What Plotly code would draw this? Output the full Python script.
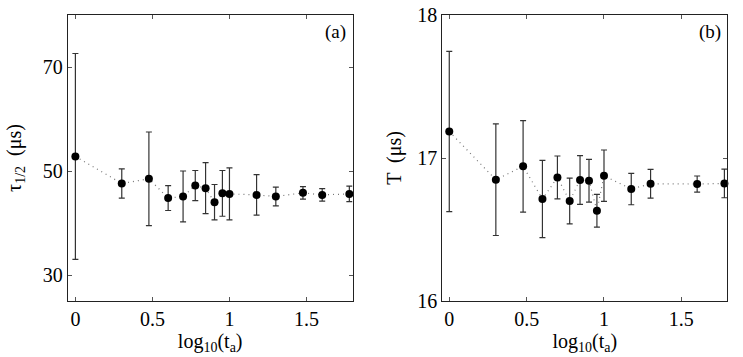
import numpy as np
import plotly.graph_objects as go

# data
ta_a = [1, 2, 3, 4, 5, 6, 7, 8, 9, 10, 15, 20, 30, 40, 60]
tau = [52.8, 47.6, 48.5, 44.8, 45.1, 47.2, 46.7, 44.0, 45.7, 45.6, 45.4, 45.1, 45.8, 45.4, 45.6]
tau_err = [19.8, 2.8, 9.0, 2.4, 4.9, 2.9, 4.9, 3.4, 4.4, 5.0, 3.9, 1.8, 1.2, 1.2, 1.5]

ta_b = [1, 2, 3, 4, 5, 6, 7, 8, 9, 10, 15, 20, 40, 60]
T = [17.185, 16.848, 16.942, 16.713, 16.864, 16.699, 16.846, 16.841, 16.631, 16.876, 16.783, 16.820, 16.818, 16.822]
T_err = [0.56, 0.39, 0.32, 0.27, 0.15, 0.16, 0.17, 0.15, 0.115, 0.18, 0.11, 0.10, 0.056, 0.10]

x_ticks = [0, 0.5, 1, 1.5]
x_ticklabels = ["0", "0.5", "1", "1.5"]
ya_ticks = [30, 50, 70]
yb_ticks = [16, 17, 18]

FONT = "Liberation Serif, Times New Roman, serif"

fig = go.Figure()

def add(xs, ys, errs, xa, ya):
    fig.add_trace(go.Scatter(
        x=np.log10(xs), y=ys, xaxis=xa, yaxis=ya,
        mode="lines+markers",
        line=dict(color="#777777", width=1.2, dash="1px,4px"),
        marker=dict(color="black", size=8),
        error_y=dict(type="data", array=errs, visible=True, color="#333333", thickness=1.2, width=3),
        cliponaxis=False, showlegend=False,
    ))

add(ta_a, tau, tau_err, "x", "y")
add(ta_b, T, T_err, "x2", "y2")

axis_common = dict(
    showgrid=False, zeroline=False, showline=True, linecolor="#222222", linewidth=1,
    mirror="ticks", ticks="inside", ticklen=4, tickcolor="#555555", automargin=False,
    tickfont=dict(family=FONT, size=20, color="black"),
)

fig.update_layout(
    width=743, height=357,
    margin=dict(l=0, r=0, t=15, b=56, autoexpand=False),
    plot_bgcolor="white", paper_bgcolor="white",
    font=dict(family=FONT, color="black"),
    xaxis=dict(domain=[0.0911, 0.4747], range=[-0.05, 1.80], tickvals=x_ticks, ticktext=x_ticklabels,
               title=dict(text="log<sub>10</sub>(t<sub>a</sub>)", font=dict(family=FONT, size=20), standoff=0),
               anchor="y", **axis_common),
    yaxis=dict(range=[25, 80], tickvals=ya_ticks,
               title=dict(text="τ<sub>1/2</sub>  (μs)", font=dict(family=FONT, size=20), standoff=15),
               anchor="x", **axis_common),
    xaxis2=dict(domain=[0.5953, 0.9789], range=[-0.045, 1.797], tickvals=x_ticks, ticktext=x_ticklabels,
                title=dict(text="log<sub>10</sub>(t<sub>a</sub>)", font=dict(family=FONT, size=20), standoff=0),
                anchor="y2", **axis_common),
    yaxis2=dict(range=[16, 18], tickvals=yb_ticks,
                title=dict(text="T  (μs)", font=dict(family=FONT, size=20), standoff=10),
                anchor="x2", **axis_common),
    annotations=[
        dict(text="(a)", x=0.985, y=0.985, xref="x domain", yref="y domain", xanchor="right", yanchor="top",
             showarrow=False, font=dict(family=FONT, size=19)),
        dict(text="(b)", x=0.985, y=0.985, xref="x2 domain", yref="y2 domain", xanchor="right", yanchor="top",
             showarrow=False, font=dict(family=FONT, size=19)),
    ],
)

fig.write_html(
    "out.html",
    config={"displayModeBar": False},
    post_script="document.body.style.margin='0';document.body.style.overflow='hidden';",
)
